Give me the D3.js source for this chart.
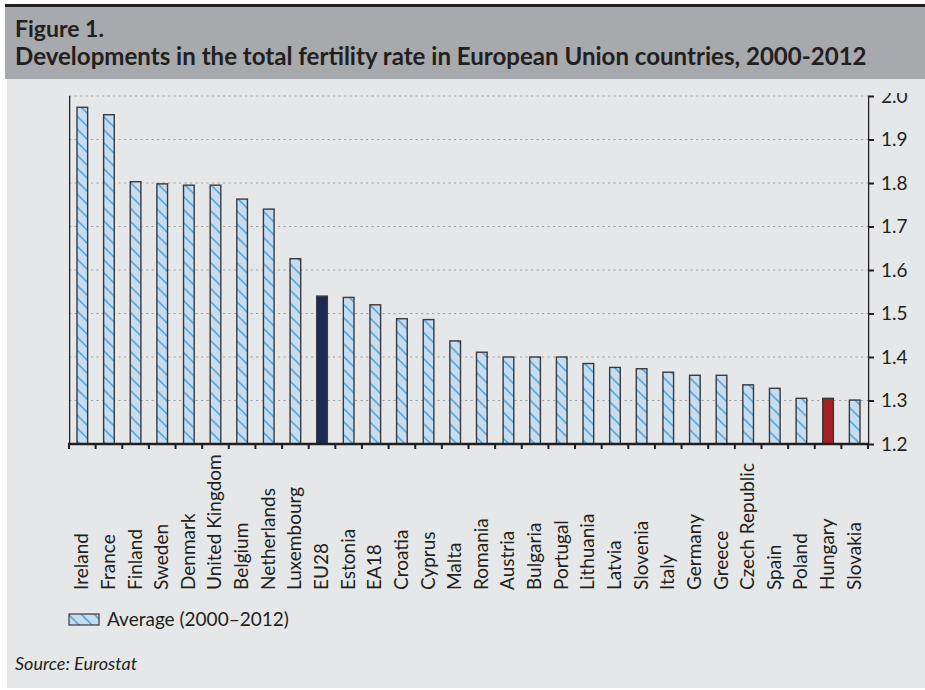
<!DOCTYPE html>
<html>
<head>
<meta charset="utf-8">
<script src="https://cdn.jsdelivr.net/npm/d3@7"></script>
<style>
  html, body { margin: 0; padding: 0; background: #ffffff; }
  svg { display: block; }
  text { font-family: Lato, "Noto Sans", sans-serif; fill: #231f20; }
</style>
</head>
<body>
<svg id="chart" width="925" height="690"></svg>
<script>
const categories = ["Ireland","France","Finland","Sweden","Denmark","United Kingdom","Belgium","Netherlands","Luxembourg","EU28","Estonia","EA18","Croatia","Cyprus","Malta","Romania","Austria","Bulgaria","Portugal","Lithuania","Latvia","Slovenia","Italy","Germany","Greece","Czech Republic","Spain","Poland","Hungary","Slovakia"];
const values = [1.974,1.957,1.803,1.798,1.795,1.795,1.763,1.740,1.626,1.540,1.537,1.520,1.488,1.486,1.437,1.411,1.400,1.400,1.400,1.385,1.376,1.373,1.365,1.358,1.358,1.336,1.328,1.305,1.305,1.301];
const yTicks = [1.2,1.3,1.4,1.5,1.6,1.7,1.8,1.9,2.0];
const titleLines = ["Figure 1.","Developments in the total fertility rate in European Union countries, 2000-2012"];
const legendLabel = "Average (2000\u20132012)";
const sourceLabel = "Source: Eurostat";

const svg = d3.select("#chart");
const W = 925, H = 690;
const plot = {left: 69, right: 868, top: 96, bottom: 444};

// background panels
svg.append("rect").attr("x", 7).attr("y", 79).attr("width", W - 7).attr("height", 609).attr("fill", "#e6e7e8");
svg.append("rect").attr("x", 5).attr("y", 7).attr("width", W - 5).attr("height", 72).attr("fill", "#a7a9ac");
svg.append("rect").attr("x", 5).attr("y", 4).attr("width", W - 5).attr("height", 3).attr("fill", "#231f20");

// title
const tl = svg.append("g");
tl.append("text").attr("x", 15).attr("y", 37).attr("font-weight", "bold").attr("font-size", 23).text(titleLines[0]);
const t2 = tl.append("text").attr("x", 15).attr("y", 65).attr("font-weight", "bold").attr("font-size", 21).text(titleLines[1]);
(function(){ const len = t2.node().getComputedTextLength(); const target = 852; t2.attr("font-size", 21 * target / len); })();

// pattern
const defs = svg.append("defs");
const pat = defs.append("pattern").attr("id", "hatch").attr("patternUnits", "userSpaceOnUse")
  .attr("width", 13).attr("height", 13);
pat.append("rect").attr("width", 13).attr("height", 13).attr("fill", "#c6dcf1");
pat.append("path").attr("d", "M-3,-3 L16,16 M-3,10 L3,16 M10,-3 L16,3").attr("stroke", "#5ba9dd").attr("stroke-width", 1.6);

defs.append("clipPath").attr("id", "topclip").append("rect").attr("x", 0).attr("y", 93).attr("width", W).attr("height", H);

const x = d3.scaleBand().domain(categories).range([plot.left, plot.right]).paddingInner(0).paddingOuter(0);
const y = d3.scaleLinear().domain([1.2, 2.0]).range([plot.bottom, plot.top]);

// gridlines
svg.append("g").selectAll("line").data(yTicks.filter(d => d > 1.2)).join("line")
  .attr("x1", plot.left).attr("x2", plot.right)
  .attr("y1", d => y(d)).attr("y2", d => y(d))
  .attr("stroke", "#9d9fa2").attr("stroke-width", 1.1).attr("stroke-dasharray", "2.2,3.3");

// bars
const bw = x.bandwidth() * 0.4;
svg.append("g").selectAll("rect").data(categories.map((c, i) => ({c, v: values[i]}))).join("rect")
  .attr("x", d => x(d.c) + (x.bandwidth() - bw) / 2)
  .attr("width", bw)
  .attr("y", d => y(d.v))
  .attr("height", d => y(1.2) - y(d.v))
  .attr("fill", d => d.c === "EU28" ? "#1b2a55" : d.c === "Hungary" ? "#a41f24" : "url(#hatch)")
  .attr("stroke", "#3a3a3c").attr("stroke-width", 1.4);

// axes
const fmt = d3.format(".1f");
const axL = svg.append("g").attr("transform", `translate(${plot.left},0)`).attr("clip-path", "url(#topclip)")
  .call(d3.axisLeft(y).tickValues(yTicks).tickFormat(fmt).tickSize(6).tickPadding(7));
const axR = svg.append("g").attr("transform", `translate(${plot.right},0)`).attr("clip-path", "url(#topclip)")
  .call(d3.axisRight(y).tickValues(yTicks).tickFormat(fmt).tickSize(6).tickPadding(7));
[axL, axR].forEach(a => {
  a.select(".domain").attr("stroke", "#231f20").attr("stroke-width", 2.5)
    .attr("d", `M0,${plot.top}V${plot.bottom}`);
  a.selectAll(".tick line").attr("stroke", "#231f20").attr("stroke-width", 2);
  a.selectAll(".tick text").attr("font-size", 19).attr("font-family", "Lato, sans-serif").attr("fill", "#231f20");
});

// bottom axis
const bounds = categories.map(c => x(c)).concat([plot.right]);
const axB = svg.append("g");
axB.append("line").attr("x1", plot.left - 1).attr("x2", plot.right + 1).attr("y1", plot.bottom).attr("y2", plot.bottom)
  .attr("stroke", "#231f20").attr("stroke-width", 2.5);
axB.selectAll("line.t").data(bounds).join("line").attr("class", "t")
  .attr("x1", d => d).attr("x2", d => d).attr("y1", plot.bottom).attr("y2", plot.bottom + 5)
  .attr("stroke", "#231f20").attr("stroke-width", 2);

// category labels
svg.append("g").selectAll("text").data(categories).join("text")
  .attr("transform", d => `translate(${x(d) + x.bandwidth() / 2 + 6},590) rotate(-90)`)
  .attr("font-size", 19)
  .attr("text-anchor", "start")
  .text(d => d);

// legend
svg.append("rect").attr("x", 69).attr("y", 614).attr("width", 30).attr("height", 11)
  .attr("fill", "url(#hatch)").attr("stroke", "#3a3a3c").attr("stroke-width", 1.2);
svg.append("text").attr("x", 107).attr("y", 626).attr("font-size", 19).text(legendLabel);

// source
svg.append("text").attr("x", 15).attr("y", 670).attr("font-size", 18).attr("font-style", "italic").text(sourceLabel);
</script>
</body>
</html>
